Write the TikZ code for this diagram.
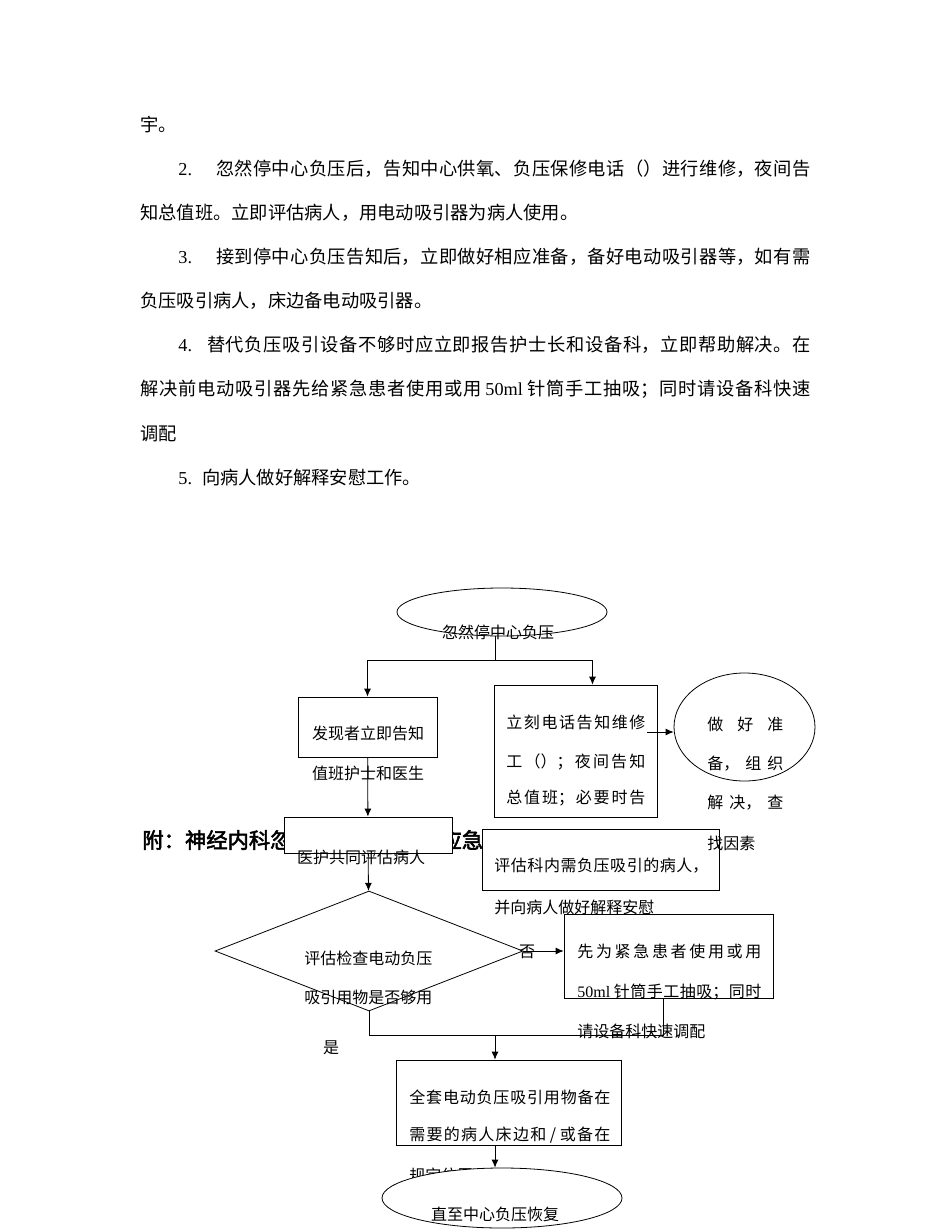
\documentclass[tikz,border=0pt]{standalone}
\usepackage{fontspec}
\setmainfont{Liberation Serif}
\newfontfamily\cjk{Noto Sans CJK SC}
\newfontfamily\cjkbold[FakeBold=2.5]{Noto Sans CJK SC}
\newfontfamily\lat{Liberation Serif}
\usetikzlibrary{shapes,arrows,arrows.meta,positioning,calc}
\XeTeXlinebreaklocale "zh"
\XeTeXlinebreakskip=0pt plus 30pt
\tolerance=10000
\hbadness=10000
\tikzset{
block/.style = {draw, fill=white, rectangle, inner sep=0pt},
term/.style = {draw, fill=white, ellipse, inner sep=0pt},
check/.style = {draw, fill=white, diamond, inner sep=0pt},
tmp/.style = {coordinate},
lbl/.style = {inner sep=0pt, font=\cjk\fontsize{16}{16}\selectfont},
jlbl/.style = {lbl, anchor=west, text width=#1, align=justify, execute at begin node={\parfillskip=0pt\relax}},
para/.style = {inner sep=0pt, anchor=west, font=\cjk\fontsize{18.25}{18.25}\selectfont},
jpara/.style = {para, text width=#1, align=justify, execute at begin node={\parfillskip=0pt\relax}}
}
\begin{document}
\begin{tikzpicture}[x=1pt, y=-1pt, line width=0.8pt, >={Latex[length=8pt,width=7pt]}]
		\useasboundingbox (0,0) rectangle (950,1230);
		\fill[white] (0,0) rectangle (950,1230);

		% text of the page
		\node [para] (p0) at (140,125) {宇。};
		\node [jpara=632pt] (p1) at (178,169) {{\lat 2.}\kern24pt 忽然停中心负压后，告知中心供氧、负压保修电话（）进行维修，夜间告};
		\node [para] (p2) at (140,213) {知总值班。立即评估病人，用电动吸引器为病人使用。};
		\node [jpara=632pt] (p3) at (178,257) {{\lat 3.}\kern24pt 接到停中心负压告知后，立即做好相应准备，备好电动吸引器等，如有需};
		\node [para] (p4) at (140,301) {负压吸引病人，床边备电动吸引器。};
		\node [jpara=632pt] (p5) at (178,345) {{\lat 4.}\kern15pt 替代负压吸引设备不够时应立即报告护士长和设备科，立即帮助解决。在};
		\node [jpara=670pt] (p6) at (140,389) {解决前电动吸引器先给紧急患者使用或用 {\lat 50ml} 针筒手工抽吸；同时请设备科快速};
		\node [para] (p7) at (140,434) {调配};
		\node [para] (p8) at (178,478) {{\lat 5.}\kern10pt 向病人做好解释安慰工作。};

		\node [inner sep=0pt, anchor=west, font=\cjkbold\fontsize{21.3}{21.3}\selectfont] (title) at (142,840) {附：神经内科忽然停中心负压时应急预案流程图};

		% flow chart
		\node [term, minimum width=210pt, minimum height=48pt] (start) at (502,612) {};
		\node [block, minimum width=139pt, minimum height=60pt] (finder) at (367.5,727) {};
		\node [block, minimum width=163pt, minimum height=132pt] (phone) at (575.5,751) {};
		\node [term, minimum width=141pt, minimum height=108pt] (prep) at (744.5,727) {};
		\node [block, minimum width=168pt, minimum height=36pt] (assess) at (368,835) {};
		\node [block, minimum width=237pt, minimum height=61pt] (ward) at (600.5,859.5) {};
		\node [check, minimum width=308pt, minimum height=120pt] (enough) at (369,951) {};
		\node [block, minimum width=209pt, minimum height=84pt] (manual) at (668.5,956) {};
		\node [block, minimum width=225pt, minimum height=85pt] (kit) at (508.5,1102.5) {};

		\node [tmp] (split) at (495,660) {};
		\node [tmp] (join) at (495,1035) {};
		\coordinate (tell) at ([xshift=-10pt,yshift=19pt]phone.east);

		\draw (start.south -| split) -- (split);
		\draw [->] (split) -| (finder);
		\draw [->] (split) -| ([xshift=17pt]phone.north);
		\draw [->] (tell) -- (tell -| prep.west);
		\draw [->] (finder) -- (assess);
		\draw [->] (assess) -- (enough);
		\draw [->] (enough.east) -- (enough.east -| manual.west);
		\draw (enough.south) |- (join);
		\draw ([xshift=-5.5pt]manual.south) |- (join);
		\draw [->] (join) -- (join |- kit.north);

		\node [lbl] (startt) at (498,632) {忽然停中心负压};
		\node [lbl] (findt1) at (368,733) {发现者立即告知};
		\node [lbl] (findt2) at (368,773) {值班护士和医生};
		\node [jlbl=139pt] (phonet1) at (506,722) {立刻电话告知维修};
		\node [jlbl=139pt] (phonet2) at (506,762) {工（）；夜间告知};
		\node [jlbl=139pt] (phonet3) at (506,798) {总值班；必要时告};
		\node [jlbl=76pt] (prept1) at (707,724) {做好准};
		\node [jlbl=76pt] (prept2) at (707,764) {备，组织};
		\node [jlbl=76pt] (prept3) at (707,803) {解决，查};
		\node [lbl, anchor=west] (prept4) at (707,843) {找因素};
		\node [lbl] (assesst) at (361,857) {医护共同评估病人};
		\node [jlbl=214pt] (wardt1) at (494,866) {评估科内需负压吸引的病人，};
		\node [lbl, anchor=west] (wardt2) at (494,907) {并向病人做好解释安慰};
		\node [lbl, anchor=west] (enought1) at (304,958) {评估检查电动负压};
		\node [lbl, anchor=west] (enought2) at (304,997) {吸引用物是否够用};
		\node [lbl] (no) at (527,952) {否};
		\node [lbl] (yes) at (331,1048) {是};
		\node [jlbl=184pt] (manualt1) at (577,951) {先为紧急患者使用或用};
		\node [jlbl=184pt] (manualt2) at (577,992) {{\lat 50ml} 针筒手工抽吸；同时};
		\node [lbl, anchor=west] (manualt3) at (577,1031) {请设备科快速调配};
		\node [jlbl=201pt] (kitt1) at (409,1097) {全套电动负压吸引用物备在};
		\node [jlbl=201pt] (kitt2) at (409,1135) {需要的病人床边和 / 或备在};
		\node [lbl, anchor=west] (kitt3) at (409,1175) {规定位置};

		\node [term, minimum width=240pt, minimum height=60pt] (stop) at (502,1198) {};
		\draw [->] (kit.south -| join) -- (stop.north -| join);
		\node [lbl] (stopt) at (495,1214) {直至中心负压恢复};
\end{tikzpicture}
\end{document}
